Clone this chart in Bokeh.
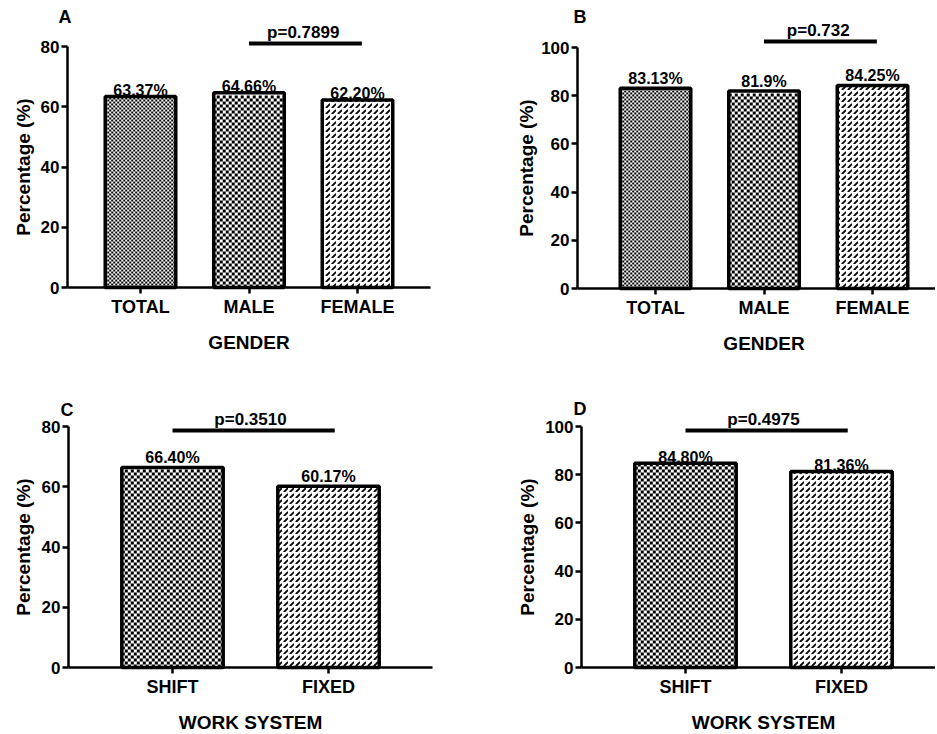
from bokeh.plotting import figure
from bokeh.layouts import row, column
from bokeh.models import FixedTicker, Label
from bokeh.core.properties import value
from bokeh.embed import file_html
from bokeh.resources import INLINE
import math

# ---------------- data ----------------
gender_cats = ["TOTAL", "MALE", "FEMALE"]
work_cats = ["SHIFT", "FIXED"]

a_vals = [63.37, 64.66, 62.20]
a_text = ["63.37%", "64.66%", "62.20%"]
b_vals = [83.13, 81.9, 84.25]
b_text = ["83.13%", "81.9%", "84.25%"]
c_vals = [66.40, 60.17]
c_text = ["66.40%", "60.17%"]
d_vals = [84.80, 81.36]
d_text = ["84.80%", "81.36%"]

a_p = "p=0.7899"
b_p = "p=0.732"
c_p = "p=0.3510"
d_p = "p=0.4975"

ticks_80 = [0, 20, 40, 60, 80]
ticks_100 = [0, 20, 40, 60, 80, 100]

FONT = "Liberation Sans"
BAR_W = 0.65


def make_panel(cats, vals, texts, ptext, pair, pline_level, yticks, ppu, spacing,
               width, height, origin, cat0_px, xaxis_end_px, letter, letter_pos,
               ytitle_dx, xtitle_dy, xlabel, fills, val_off_px):
    ox, oy = origin                     # y-axis / x-axis position inside the figure (px)
    x_start = -cat0_px / spacing
    x_end = x_start + width / spacing
    y_end = oy / ppu
    y_start = -(height - oy) / ppu
    yloc = (ox - cat0_px) / spacing     # data x where the y-axis sits

    def X(dx):
        return yloc + dx / spacing

    def Y(dy):
        return dy / ppu

    p = figure(width=width, height=height, x_range=(x_start, x_end),
               y_range=(y_start, y_end), output_backend="svg", toolbar_location=None,
               title=None, min_border=0, min_border_left=0, min_border_right=0,
               min_border_top=0, min_border_bottom=0)
    p.outline_line_color = None
    p.grid.visible = False
    p.background_fill_color = "white"
    p.border_fill_color = "white"

    xs = list(range(len(cats)))

    # value labels (drawn first so the bar outline sits on top)
    p.text(x=xs, y=[v + val_off_px / ppu for v in vals], text=texts,
           text_font=value(FONT), text_font_size="16px", text_font_style="bold",
           text_align="center", text_baseline="middle", text_color="black")

    # bars: white body + pattern + outline
    for i, (x, v) in enumerate(zip(xs, vals)):
        kind, sq = fills[i]
        if kind == "diag":
            p.vbar(x=[x], top=[v], bottom=0, width=BAR_W, fill_color="white",
                   line_color=None, hatch_pattern="right_diagonal_dash",
                   hatch_color="black", hatch_scale=6, hatch_weight=1.8)
        else:
            p.vbar(x=[x], top=[v], bottom=0, width=BAR_W, fill_color="white",
                   line_color=None)
            nrows = int(v * ppu // sq)
            x0 = x - BAR_W / 2
            x1 = x + BAR_W / 2
            ev = [(k + 0.5) * sq / ppu for k in range(0, nrows, 2)]
            od = [(k + 0.5) * sq / ppu for k in range(1, nrows, 2)]
            p.segment(x0=[x0] * len(ev), y0=ev, x1=[x1] * len(ev), y1=ev,
                      line_color="black", line_width=sq, line_dash=f"{sq} {sq}",
                      line_cap="butt")
            p.segment(x0=[x0 + sq / spacing] * len(od), y0=od, x1=[x1] * len(od), y1=od,
                      line_color="black", line_width=sq, line_dash=f"{sq} {sq}",
                      line_cap="butt")
        p.vbar(x=[x], top=[v], bottom=0, width=BAR_W, fill_color=None,
               line_color="black", line_width=3.5)

    # p-value bracket
    i0, i1 = pair
    p.segment(x0=[xs[i0]], y0=[pline_level], x1=[xs[i1] + 0.04], y1=[pline_level],
              line_color="black", line_width=4)
    p.text(x=[(xs[i0] + xs[i1]) / 2], y=[pline_level + 11 / ppu], text=[ptext],
           text_font=value(FONT), text_font_size="17px", text_font_style="bold",
           text_align="center", text_baseline="middle", text_color="black")

    # panel letter
    p.text(x=[X(letter_pos[0])], y=[Y(letter_pos[1])], text=[letter],
           text_font=value(FONT), text_font_size="18px", text_font_style="bold",
           text_align="left", text_baseline="middle", text_color="black")
    # x-axis title, centred on the middle category
    p.text(x=[(xs[0] + xs[-1]) / 2], y=[Y(xtitle_dy)], text=[xlabel],
           text_font=value(FONT), text_font_size="19px", text_font_style="bold",
           text_align="center", text_baseline="middle", text_color="black")
    # y-axis title, centred on the axis bounds
    p.add_layout(Label(x=X(ytitle_dx), y=(yticks[0] + yticks[-1]) / 2,
                       angle=math.pi / 2, text="Percentage (%)", text_font=FONT,
                       text_font_size="19px", text_font_style="bold",
                       text_align="center", text_baseline="middle",
                       text_color="black"))

    # axes placed at fixed locations inside the frame
    p.xaxis.fixed_location = 0
    p.yaxis.fixed_location = yloc
    p.xaxis.ticker = FixedTicker(ticks=xs)
    p.xaxis.major_label_overrides = {x: c for x, c in zip(xs, cats)}
    p.xaxis.bounds = (yloc, min(x_end, x_start + xaxis_end_px / spacing))
    p.yaxis.ticker = FixedTicker(ticks=yticks)
    p.yaxis.bounds = (yticks[0], yticks[-1])
    for ax in (p.xaxis, p.yaxis):
        ax.minor_tick_line_color = None
        ax.axis_line_width = 2.5
        ax.axis_line_color = "black"
        ax.major_tick_line_width = 2.5
        ax.major_tick_line_color = "black"
        ax.major_tick_in = 0
        ax.major_tick_out = 6
        ax.major_label_text_font = FONT
        ax.major_label_text_font_style = "bold"
        ax.major_label_text_color = "black"
    p.xaxis.major_label_text_font_size = "18px"
    p.yaxis.major_label_text_font_size = "17px"
    p.xaxis.major_label_standoff = 3
    p.yaxis.major_label_standoff = 2
    return p


fills3 = [("checker", 2), ("checker", 3), ("diag", 0)]
fills2 = [("checker", 3), ("diag", 0)]

pa = make_panel(gender_cats, a_vals, a_text, a_p, (1, 2), 81.0, ticks_80, 3.0125, 108.5,
                468, 360, (67, 287), 140, 430, "A", (-9, 271), -44, -54.5, "GENDER",
                fills3, 6.5)
pb = make_panel(gender_cats, b_vals, b_text, b_p, (1, 2), 102.5, ticks_100, 2.41, 108.5,
                467, 360, (109, 288), 187, 467, "B", (-4, 272), -51, -54.5, "GENDER",
                fills3, 9.5)
pc = make_panel(work_cats, c_vals, c_text, c_p, (0, 1), 78.7, ticks_80, 3.0125, 156.0,
                468, 373, (68, 307), 172, 432, "C", (-8, 258), -45, -55, "WORK SYSTEM",
                fills2, 9.5)
pd = make_panel(work_cats, d_vals, d_text, d_p, (0, 1), 98.3, ticks_100, 2.41, 156.0,
                467, 373, (113, 307), 217, 467, "D", (-8, 258.5), -54, -55, "WORK SYSTEM",
                fills2, 6)

layout = column(row(pa, pb), row(pc, pd))
open("out.html", "w").write(file_html(layout, INLINE))
